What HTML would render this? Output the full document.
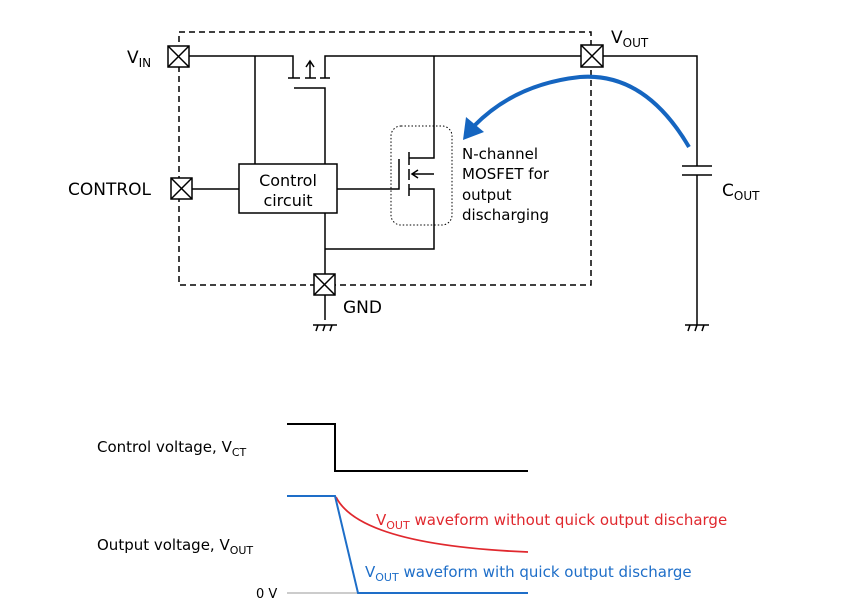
<!DOCTYPE html><html><head><style>body{margin:0;background:#fff}svg{display:block}text{font-family:"DejaVu Sans","Liberation Sans",sans-serif}</style></head><body>
<svg width="849" height="610" viewBox="0 0 849 610" xmlns="http://www.w3.org/2000/svg">
<g fill="none" stroke="#000" stroke-width="1.5">
<rect x="179" y="32" width="412" height="253" stroke-dasharray="6,4"/>
<rect x="391" y="126" width="61" height="99" rx="10" stroke-dasharray="1.5,2" stroke-width="1"/>
<path d="M189 56H293V78M325 78V56H697V166M682 166H712M682 175H712M697 175V325"/>
<path d="M288 78H300M305 78H316M320 78H330M310 78V62M306 67L310 61L314 67"/>
<path d="M294 88H325V164M255 56V164M190 189H239M337 189H399V159M409 152V165M409 169V180M409 184V196M409 158H434V56M434 174H412M418 170L412 174L418 178M409 189H434V249H325M325 213V320"/>
<rect x="239" y="164" width="98" height="49" fill="#fff"/>
<path d="M313 325H337M316 331L318 325M323 331L325 325M330 331L332 325M685 325H709M688 331L690 325M695 331L697 325M702 331L704 325"/>
</g>
<g stroke="#000" stroke-width="1.5" fill="#fff">
<rect x="168" y="46" width="21" height="21"/><path d="M168 46l21 21M189 46l-21 21"/>
<rect x="171" y="178" width="21" height="21"/><path d="M171 178l21 21M192 178l-21 21"/>
<rect x="314" y="274" width="21" height="21"/><path d="M314 274l21 21M335 274l-21 21"/>
<rect x="581" y="45" width="22" height="22"/><path d="M581 45l22 22M603 45l-22 22"/>
</g>
<path d="M689 147Q645 72 580 77Q515 84 474 126" fill="none" stroke="#1565c0" stroke-width="4"/>
<path d="M463 140L466 117L484 132Z" fill="#1565c0"/>
<g font-size="17" fill="#000">
<text x="127" y="63">V<tspan font-size="12" dy="4">IN</tspan></text>
<text x="68" y="195">CONTROL</text>
<text x="343" y="313">GND</text>
<text x="611" y="43">V<tspan font-size="12" dy="4">OUT</tspan></text>
<text x="722" y="196">C<tspan font-size="12" dy="4">OUT</tspan></text>
<text x="288" y="186" text-anchor="middle" font-size="16">Control</text>
<text x="288" y="206" text-anchor="middle" font-size="16">circuit</text>
<g font-size="15"><text x="462" y="159">N-channel</text><text x="462" y="179">MOSFET for</text><text x="462" y="200">output</text><text x="462" y="220">discharging</text>
<text x="97" y="452">Control voltage, V<tspan font-size="11" dy="4">CT</tspan></text>
<text x="97" y="550">Output voltage, V<tspan font-size="11" dy="4">OUT</tspan></text></g>
<text x="256" y="598" font-size="13">0 V</text>
<text x="376" y="525" font-size="15" fill="#e0282e">V<tspan font-size="11" dy="4">OUT</tspan><tspan dy="-4"> waveform without quick output discharge</tspan></text>
<text x="365" y="577" font-size="15" fill="#1e6ec8">V<tspan font-size="11" dy="4">OUT</tspan><tspan dy="-4"> waveform with quick output discharge</tspan></text>
</g>
<path d="M287 424H335V471H528" fill="none" stroke="#000" stroke-width="2"/>
<path d="M287 593H358" stroke="#999" stroke-width="1"/>
<path d="M336 497Q360 545 528 552" fill="none" stroke="#e0282e" stroke-width="1.8"/>
<path d="M287 496H335L358 593H528" fill="none" stroke="#1e6ec8" stroke-width="2"/>
</svg></body></html>
